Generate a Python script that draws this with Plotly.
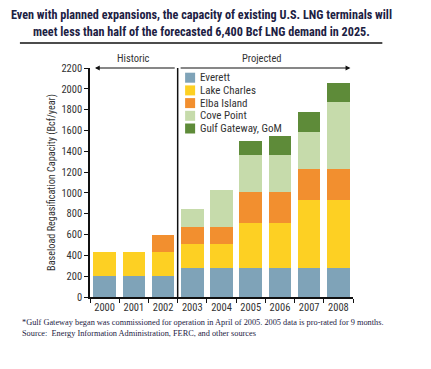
import plotly.graph_objects as go

years = ["2000", "2001", "2002", "2003", "2004", "2005", "2006", "2007", "2008"]
names = ["Everett", "Lake Charles", "Elba Island", "Cove Point", "Gulf Gateway, GoM"]
everett = [200, 200, 200, 280, 280, 280, 280, 280, 280]
lake_charles = [230, 230, 230, 230, 230, 435, 435, 655, 655]
elba_island = [0, 0, 170, 160, 160, 290, 290, 290, 290]
cove_point = [0, 0, 0, 180, 360, 360, 360, 365, 650]
gulf_gateway = [0, 0, 0, 0, 0, 135, 180, 185, 180]
series = [everett, lake_charles, elba_island, cove_point, gulf_gateway]
colors = ["#7fa3b8", "#fdd023", "#f28f2f", "#c6dbab", "#5e8b39"]
y_ticks = list(range(0, 2201, 200))

COND = "Roboto Condensed, DejaVu Sans Condensed, sans-serif"
SERIF = "Liberation Serif, Times New Roman, serif"
TXT = "#333"

fig = go.Figure()
for n, vals, c in zip(names, series, colors):
    fig.add_trace(go.Bar(x=years, y=vals, name=n, marker=dict(color=c, line=dict(width=0)),
                         showlegend=False))

OFF = 8  # page body margin
W, H = 431 - OFF, 369 - OFF
L, R, T, B = 90 - OFF, 78.3, 68.3 - OFF, 71.7
pw, ph = W - L - R, H - T - B

def px(x):
    return (x - OFF - L) / pw

def py(y):
    return (H - B - (y - OFF)) / ph

fig.update_layout(
    width=W, height=H,
    margin=dict(l=L, r=R, t=T, b=B, pad=0),
    paper_bgcolor="white", plot_bgcolor="white",
    barmode="stack", bargap=0.23,
    font=dict(family=COND, size=10, color=TXT),
    xaxis=dict(type="category", range=[-0.5, 8.5], showline=True, linecolor="#111", linewidth=1.5,
               ticks="outside", tickson="boundaries", ticklen=4, tickcolor="#111", tickangle=0,
               automargin=False,
               tickfont=dict(size=10.5, color=TXT, family=COND), showgrid=False),
    yaxis=dict(range=[0, 2200], tickvals=y_ticks, showline=True, linecolor="#111", linewidth=1.5,
               ticks="outside", ticklen=4, tickcolor="#111", showgrid=False, zeroline=False,
               automargin=False,
               tickfont=dict(size=10.5, color=TXT, family=COND),
               title=dict(text="Baseload Regasification Capacity (Bcf/year)", standoff=4,
                          font=dict(size=10.2, color=TXT, family=COND))),
)

fig.add_shape(type="line", xref="x", yref="y", x0=2.5, x1=2.5, y0=-25, y1=2200,
              line=dict(color="#111", width=1.5))
fig.add_annotation(x=-0.33, y=2200, ax=2.45, ay=2200, xref="x", yref="y", axref="x", ayref="y",
                   text="", showarrow=True, arrowhead=2, arrowsize=0.8, arrowwidth=1.2, arrowcolor="#111")
fig.add_annotation(x=8.41, y=2200, ax=2.55, ay=2200, xref="x", yref="y", axref="x", ayref="y",
                   text="", showarrow=True, arrowhead=2, arrowsize=0.8, arrowwidth=1.2, arrowcolor="#111")
fig.add_annotation(x=1, y=1, xref="x", yref="paper", yanchor="bottom", yshift=1, text="Historic",
                   showarrow=False, font=dict(size=10.5, color=TXT, family=COND))
fig.add_annotation(x=5.4, y=1, xref="x", yref="paper", yanchor="bottom", yshift=1, text="Projected",
                   showarrow=False, font=dict(size=10.5, color=TXT, family=COND))

for i, (n, c) in enumerate(zip(names, colors)):
    yc = 78 + i * 12.7
    fig.add_shape(type="rect", xref="paper", yref="paper", x0=px(185), x1=px(195),
                  y0=py(yc + 5), y1=py(yc - 5), fillcolor=c, line=dict(width=0))
    fig.add_annotation(x=px(198), y=py(yc), xref="paper", yref="paper", xanchor="left",
                       yanchor="middle", text=n, showarrow=False,
                       font=dict(size=11, color=TXT, family=COND))

fig.add_annotation(x=px(201), y=py(15), xref="paper", yref="paper", xanchor="center", yanchor="middle",
                   text="<b>Even with planned expansions, the capacity of existing U.S. LNG terminals will</b>",
                   showarrow=False, font=dict(size=12.2, color="#1c2143", family=COND))
fig.add_annotation(x=px(201), y=py(32), xref="paper", yref="paper", xanchor="center", yanchor="middle",
                   text="<b>meet less than half of the forecasted 6,400 Bcf LNG demand in 2025.</b>",
                   showarrow=False, font=dict(size=12.2, color="#1c2143", family=COND))
fig.add_shape(type="line", xref="paper", yref="paper", x0=px(20), x1=px(382), y0=py(43.3), y1=py(43.3),
              line=dict(color="#111", width=1.5))

fig.add_annotation(x=px(20), y=py(323), xref="paper", yref="paper", xanchor="left", yanchor="middle",
                   text="*Gulf Gateway began was commissioned for operation in April of 2005. 2005 data is pro-rated for 9 months.",
                   showarrow=False, font=dict(size=8.3, color="#1c2143", family=SERIF))
fig.add_annotation(x=px(20), y=py(334), xref="paper", yref="paper", xanchor="left", yanchor="middle",
                   text="Source:  Energy Information Administration, FERC, and other sources",
                   showarrow=False, font=dict(size=8.3, color="#1c2143", family=SERIF))

fig.write_html("out.html")
